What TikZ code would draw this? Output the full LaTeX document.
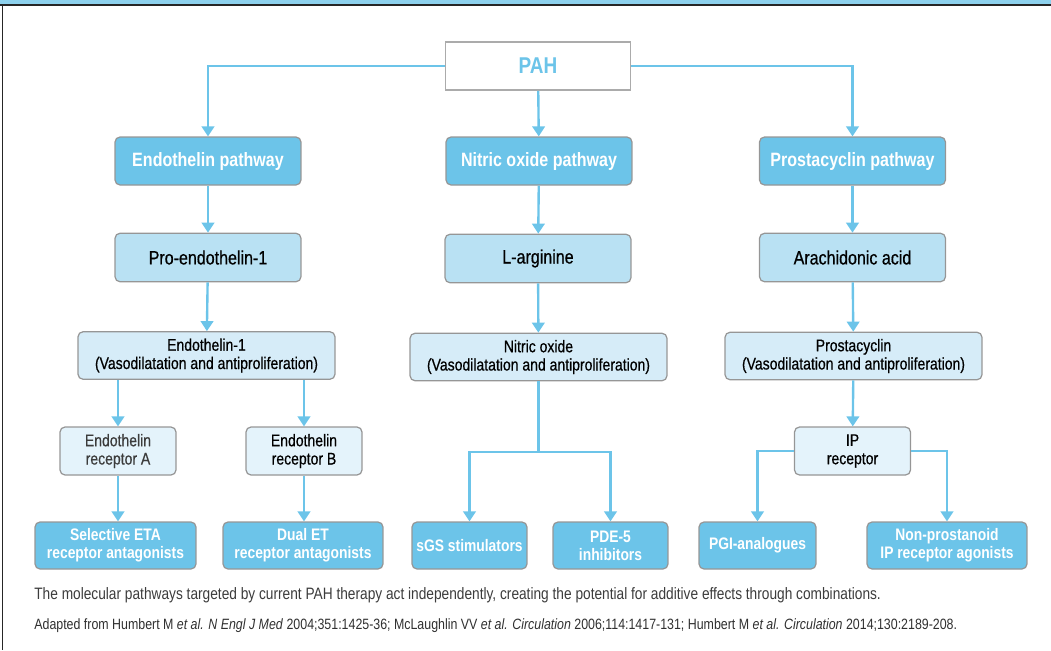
\documentclass[tikz,border=0pt]{standalone}
\usepackage{fontspec}
\setmainfont{Liberation Sans}[FakeStretch=0.83]
\newfontfamily\mediumfont{Liberation Sans}[FakeStretch=0.83, FakeBold=0.6]
\usetikzlibrary{arrows.meta}

\definecolor{pahblue}{RGB}{108,196,233}
\definecolor{lightblue}{RGB}{185,225,243}
\definecolor{paleblue}{RGB}{214,236,248}
\definecolor{receptorblue}{RGB}{228,243,251}
\definecolor{bandblue}{RGB}{141,209,237}
\definecolor{boxgrey}{RGB}{150,150,150}
\definecolor{textgrey}{RGB}{60,60,60}

\tikzset{
    box/.style={rectangle, draw=boxgrey, line width=0.7pt, rounded corners=0.1cm, align=center, inner sep=2pt},
    pathway/.style={box, fill=pahblue, text=white, font=\fontsize{11}{12}\selectfont\bfseries, minimum width=3.72cm, minimum height=0.96cm},
    precursor/.style={box, fill=lightblue, font=\mediumfont\fontsize{11}{12}\selectfont, minimum width=3.72cm, minimum height=0.97cm},
    mediator/.style={box, fill=paleblue, font=\mediumfont\fontsize{9.6}{10.4}\selectfont, minimum width=5.14cm, minimum height=0.95cm},
    receptor/.style={box, fill=receptorblue, font=\mediumfont\fontsize{9.6}{10.4}\selectfont, minimum width=2.32cm, minimum height=0.96cm},
    drug/.style={box, fill=pahblue, text=white, font=\fontsize{9.5}{10.4}\selectfont\bfseries, minimum height=0.94cm},
    arr/.style={draw=pahblue, line width=1.35pt, -{Triangle[width=0.25cm,length=0.2cm]}}
}

\begin{document}
\begin{tikzpicture}[x=0.02cm, y=-0.02cm]
            \useasboundingbox (0, 0) rectangle (1051, 650);
            \fill[bandblue] (0, 0) rectangle (1051, 4.5);
            \draw[line width=0.8pt, black!85] (0, 5) -- (1051, 5);
            \draw[line width=0.6pt, black!85] (2.5, 5) -- (2.5, 650);

            \node[rectangle, draw=boxgrey!80, line width=1.1pt, fill=white, minimum width=3.7cm, minimum height=0.96cm, text=pahblue, font=\fontsize{13}{14}\selectfont\bfseries] (pah) at (538, 66) {PAH};

            \node[pathway] (endo) at (208, 161) {Endothelin pathway};
            \node[pathway] (nitric) at (539, 161) {Nitric oxide pathway};
            \node[pathway] (prosta) at (852.5, 161) {Prostacyclin pathway};

            \node[precursor] (proendo) at (208, 257.5) {Pro-endothelin-1};
            \node[precursor] (larg) at (538, 258.5) {L-arginine};
            \node[precursor] (arach) at (852.5, 257.5) {Arachidonic acid};

            \node[mediator] (endoone) at (206.5, 355.5) {Endothelin-1\\(Vasodilatation and antiproliferation)};
            \node[mediator] (nox) at (538.5, 357) {Nitric oxide\\(Vasodilatation and antiproliferation)};
            \node[mediator] (prostacyc) at (853.5, 356) {Prostacyclin\\(Vasodilatation and antiproliferation)};

            \node[receptor, text=textgrey] (reca) at (118, 451) {Endothelin\\receptor A};
            \node[receptor] (recb) at (304, 451) {Endothelin\\receptor B};
            \node[receptor] (ipr) at (852.5, 451) {IP\\receptor};

            \node[drug, minimum width=3.22cm] (selective) at (115.5, 545.5) {Selective ETA\\receptor antagonists};
            \node[drug, minimum width=3.2cm] (dual) at (303, 545.5) {Dual ET\\receptor antagonists};
            \node[drug, minimum width=2.3cm] (sgs) at (469.5, 545.5) {sGS stimulators};
            \node[drug, minimum width=2.3cm] (pde) at (610.5, 545.5) {PDE-5\\inhibitors};
            \node[drug, minimum width=2.34cm] (pgi) at (757.5, 545.5) {PGI-analogues};
            \node[drug, minimum width=3.2cm] (nonpros) at (947, 545.5) {Non-prostanoid\\IP receptor agonists};

            \coordinate (nosplit) at (538.5, 452);

            \draw[arr] (pah.west) -| (endo);
            \draw[arr] (pah) -- (nitric);
            \draw[arr] (pah.east) -| (prosta);

            \draw[arr] (endo) -- (proendo);
            \draw[arr] (nitric) -- (larg);
            \draw[arr] (prosta) -- (arach);

            \draw[arr] (proendo) -- (endoone);
            \draw[arr] (larg) -- (nox);
            \draw[arr] (arach) -- (prostacyc);

            \draw[arr] (endoone.south -| reca) -- (reca);
            \draw[arr] (endoone.south -| recb) -- (recb);
            \draw[arr] (prostacyc) -- (ipr);

            \draw[arr] (reca) -- (reca |- selective.north);
            \draw[arr] (recb) -- (recb |- dual.north);
            \draw[draw=pahblue, line width=1.35pt] (nox) -- (nosplit);
            \draw[arr] (nosplit) -| (sgs);
            \draw[arr] (nosplit) -| (pde);
            \draw[arr] (ipr.west) -| (pgi);
            \draw[arr] (ipr.east) -| (nonpros);

            \node[anchor=west, inner sep=0, text=textgrey, font=\fontsize{9.4}{10}\selectfont] (note) at (34, 595) {The molecular pathways targeted by current PAH therapy act independently, creating the potential for additive effects through combinations.};
            \node[anchor=west, inner sep=0, text=textgrey!80!black, font=\fontsize{8.5}{10}\selectfont] (source) at (34, 626) {Adapted from Humbert M \textit{et al. N Engl J Med} 2004;351:1425-36; McLaughlin VV \textit{et al. Circulation} 2006;114:1417-131; Humbert M \textit{et al. Circulation} 2014;130:2189-208.};
\end{tikzpicture}
\end{document}
